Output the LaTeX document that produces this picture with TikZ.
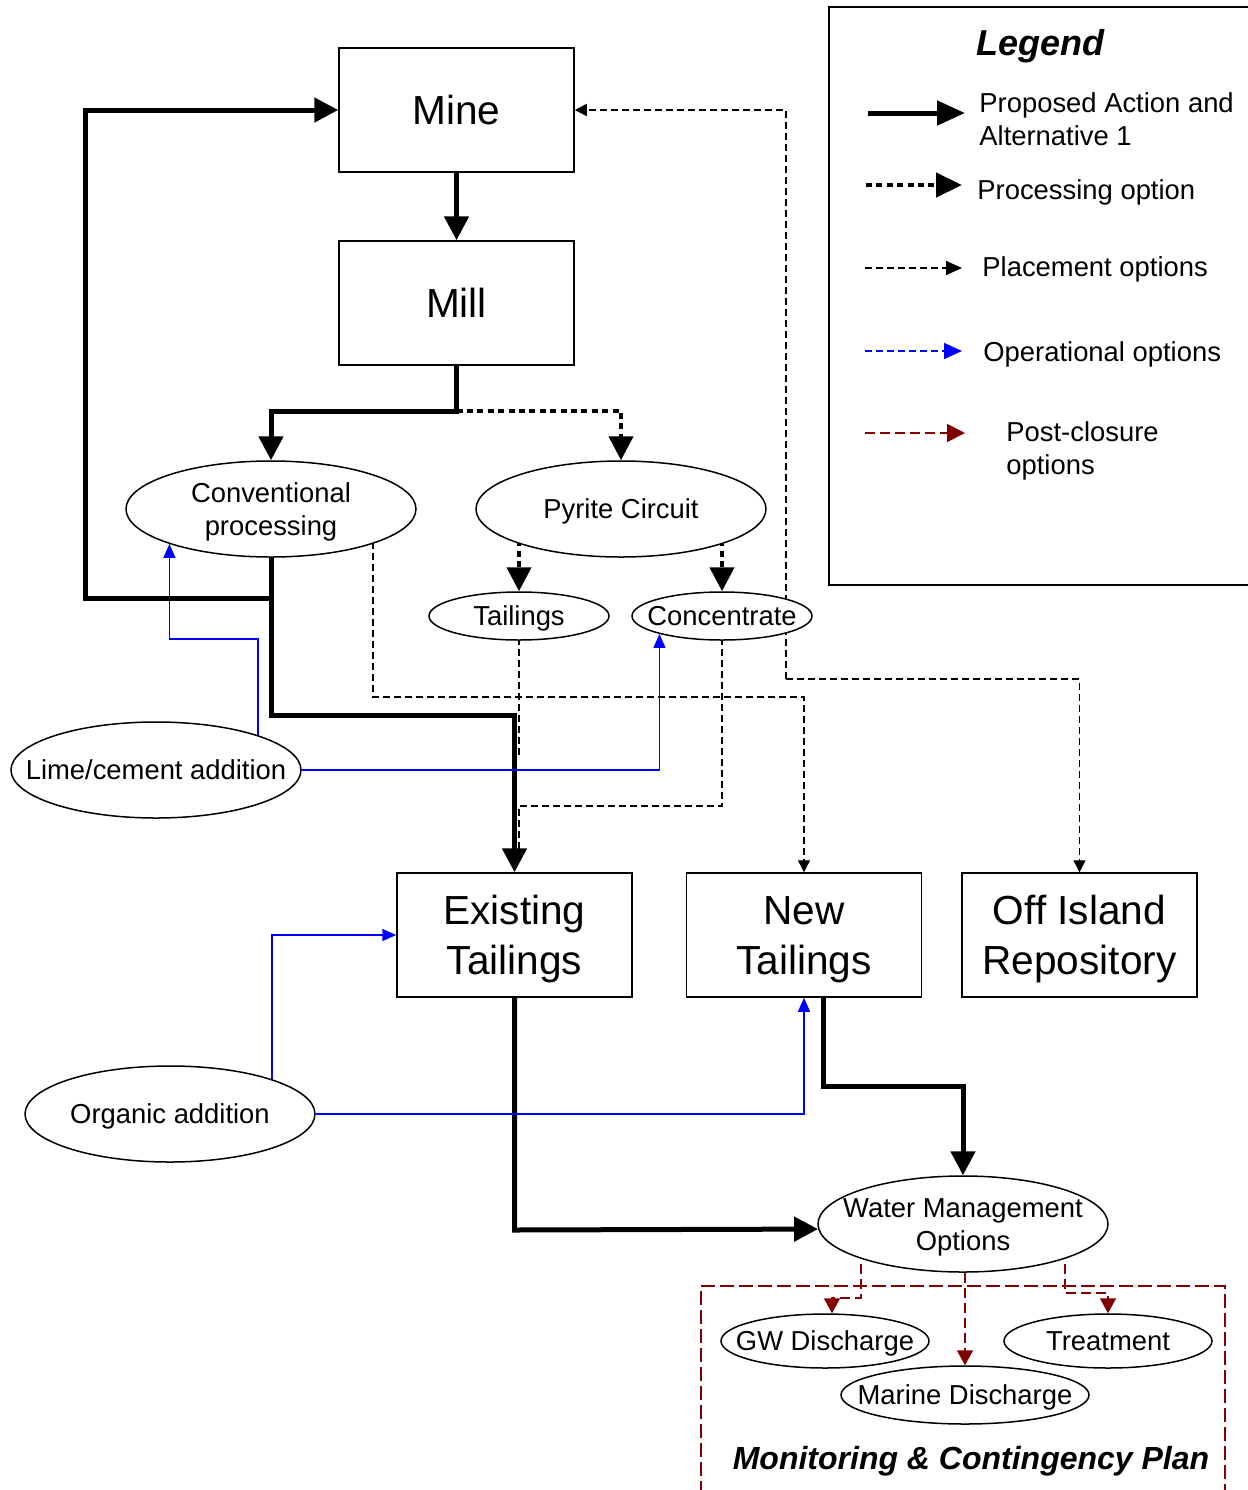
\documentclass[tikz,border=0pt]{standalone}
\usepackage{fontspec}
\setmainfont{Liberation Sans}
\usetikzlibrary{arrows.meta,shapes.geometric,calc,backgrounds}

\definecolor{postred}{RGB}{128,0,0}
\newcommand{\smallfont}{\fontsize{13.7}{16.4}\selectfont}
\newcommand{\bigfont}{\fontsize{20.3}{25}\selectfont}
% centred multi-line text that does not widen its node, set on the optical centre
\newcommand{\ctext}[1]{\makebox[0pt]{\raisebox{-0.12em}[\height][\depth]{%
  \begin{tabular}{@{}c@{}}#1\end{tabular}}}}

\tikzset{
  box/.style={draw, line width=0.75pt, fill=white, inner sep=0pt,
    minimum width=117.5pt, minimum height=62pt, font=\bigfont},
  oval/.style={ellipse, draw, line width=0.75pt, fill=white, inner sep=0pt,
    font=\smallfont},
  bigoval/.style={oval, minimum width=145pt, minimum height=48pt},
  tinyoval/.style={oval, minimum width=90pt, minimum height=24pt},
  mainflow/.style={line width=2.5pt, line join=miter,
    -{Triangle[length=12pt,width=12pt]}},
  procflow/.style={line width=2.2pt, dash pattern=on 3pt off 2.2pt,
    -{Triangle[length=12pt,width=12pt]}},
  placeflow/.style={line width=0.7pt, dash pattern=on 3.5pt off 2pt,
    -{Triangle[length=6pt,width=6pt]}},
  operflow/.style={line width=0.75pt, blue, -{Triangle[length=7pt,width=6pt]}},
  postflow/.style={line width=0.9pt, postred, dash pattern=on 5pt off 2.5pt,
    -{Triangle[length=7.5pt,width=8pt]}},
  legtext/.style={anchor=west, inner sep=0pt, font=\smallfont, align=left},
}

\begin{document}
\begin{tikzpicture}[x=0.5pt,y=-0.5pt]
\useasboundingbox (0,0) rectangle (1248,1490);

% ---- process boxes
\node[box] (mine)  at (456.5,110) {Mine};
\node[box] (mill)  at (456.5,303) {Mill};
\node[box] (exist) at (514.5,935) {\ctext{Existing\\Tailings}};
\node[box] (new)   at (804,935)   {\ctext{New\\Tailings}};
\node[box] (off)   at (1079.5,935) {\ctext{Off Island\\Repository}};

% ---- ovals
\node[bigoval] (conv) at (271,509) {\ctext{Conventional\\processing}};
\node[bigoval] (pyr)  at (621,509) {\ctext{Pyrite Circuit}};
\node[tinyoval] (tail) at (519,616) {\ctext{Tailings}};
\node[tinyoval] (conc) at (722,616) {\ctext{Concentrate}};
\node[bigoval] (lime) at (156,770) {\ctext{Lime/cement addition}};
\node[bigoval] (org)  at (170,1114) {\ctext{Organic addition}};
\node[bigoval] (wmo)  at (963,1224) {\ctext{Water Management\\Options}};
\node[oval, minimum width=104pt, minimum height=27pt] (gw)    at (825,1341) {\ctext{GW Discharge}};
\node[oval, minimum width=104pt, minimum height=27pt] (treat) at (1108,1341) {\ctext{Treatment}};
\node[oval, minimum width=124pt, minimum height=29pt] (marine) at (965,1395) {\ctext{Marine Discharge}};

% ---- monitoring frame
\draw[postred, line width=0.9pt, dash pattern=on 7pt off 2.5pt]
  (701,1495) -- (701,1286) -- (1225,1286) -- (1225,1495);
\node[font=\fontsize{16}{19}\selectfont\bfseries\itshape] (mcp) at (971,1461)
  {Monitoring \& Contingency Plan};

% ---- legend
\node[draw, line width=0.75pt, minimum width=216pt, minimum height=289pt,
  inner sep=0pt] (legbox) at (1045,296) {};
\node[font=\fontsize{18}{22}\selectfont\bfseries\itshape] (legtitle) at (1040,46) {Legend};
\coordinate (la1) at (868,113);  \coordinate (lb1) at (965,113);
\coordinate (la2) at (866,185);  \coordinate (lb2) at (962,185);
\coordinate (la3) at (865,268);  \coordinate (lb3) at (962,268);
\coordinate (la4) at (865,351);  \coordinate (lb4) at (962,351);
\coordinate (la5) at (865,433);  \coordinate (lb5) at (965,433);
\draw[line width=2.5pt, -{Triangle[length=14pt,width=12pt]}] (la1) -- (lb1);
\draw[procflow, -{Triangle[length=13pt,width=12pt]}] (la2) -- (lb2);
\draw[placeflow, -{Triangle[length=8pt,width=7pt]}] (la3) -- (lb3);
\draw[line width=0.75pt, blue, dash pattern=on 3.5pt off 2pt,
  -{Triangle[length=9pt,width=8pt]}] (la4) -- (lb4);
\draw[postflow, -{Triangle[length=9pt,width=9pt]}] (la5) -- (lb5);
\node[legtext] (lt1) at (979,119) {Proposed Action and\\Alternative 1};
\node[legtext] (lt2) at (977,192.5) {Processing option};
\node[legtext] (lt3) at (982,269.5) {Placement options};
\node[legtext] (lt4) at (983,354.5) {Operational options};
\node[legtext] (lt5) at (1006,451) {Post-closure\\options};

% ---- connectors (behind the shapes)
\begin{scope}[on background layer]
  % placement routes
  \coordinate (split) at (786,679);
  \draw[placeflow] (split) -- (786,110) -- (mine.east);
  \draw[placeflow] (split) -- (1079.5,679) -- (off.north);
  \draw[placeflow] ($(conv.center)+(102,0)$) -- (373,697) -- (804,697) -- (new.north);
  \draw[line width=0.7pt, dash pattern=on 3.5pt off 2pt] (tail.center) -- (519,755);
  \draw[line width=0.7pt, dash pattern=on 3.5pt off 2pt]
    (conc.center) -- (722,806) -- (519,806) -- (519,860);

  % processing routes
  \draw[mainflow] (mine.south) -- (mill.north);
  \coordinate (millsplit) at (456.5,411);
  \draw[mainflow] (mill.south) -- (millsplit) -- (271,411) -- (conv.north);
  \draw[procflow] (millsplit) -- (621,411) -- (pyr.north);
  \draw[procflow] ($(pyr.center)+(-102,0)$) -- (tail.north);
  \draw[procflow] ($(pyr.center)+(101,0)$) -- (conc.north);
  \draw[mainflow] (conv.south) -- (271,598) -- (85,598) -- (85,110) -- (mine.west);
  \draw[mainflow] (conv.south) -- (271,715) -- (514.5,715) -- (exist.north);
  \draw[mainflow] (exist.south) -- (514.5,1230) -- (wmo.182);
  \draw[mainflow] ($(new.south)+(19,0)$) -- (823,1086) -- (963,1086) -- (wmo.north);

  % operational additions
  \draw[operflow] ($(lime.center)+(102,0)$) -- (258,639) -- (conv.199.6 |- 0,639) -- (conv.199.6);
  \draw[operflow] (lime.east) -- (conc.196.2 |- lime.east) -- (conc.196.2);
  \draw[operflow] ($(org.center)+(102,0)$) -- (272,935) -- (exist.west);
  \draw[operflow] (org.east) -- (new.south |- org.east) -- (new.south);

  % post-closure options
  \draw[postflow] ($(wmo.center)+(-102,10)$) -- (861,1298) -- (832,1298) -- (gw.north -| 832,0);
  \draw[postflow] (wmo.south -| marine.north) -- (marine.north);
  \draw[postflow] ($(wmo.center)+(102,10)$) -- (1065,1293) -- (1108,1293) -- (treat.north);
\end{scope}
\end{tikzpicture}
\end{document}
